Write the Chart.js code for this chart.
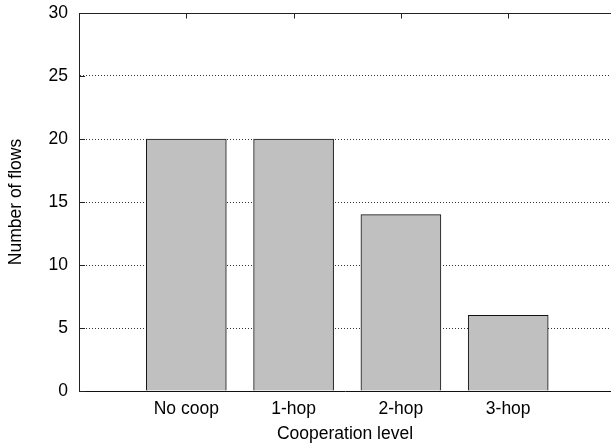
<!DOCTYPE html>
<html>
<head>
<meta charset="utf-8">
<script src="https://cdn.jsdelivr.net/npm/chart.js@4.4.1/dist/chart.umd.min.js"></script>
<style>
  html, body { margin: 0; padding: 0; background: #fff; overflow: hidden; }
  #wrap { width: 611px; height: 446px; }
</style>
</head>
<body>
<div id="wrap"><canvas id="chart" width="611" height="446"></canvas></div>
<script>
// ----- Data -----
const categories = ["No coop", "1-hop", "2-hop", "3-hop"];
const flows = [20, 20, 14, 6];
const yTicks = [0, 5, 10, 15, 20, 25, 30];

const FONT = "'Liberation Sans', Arial, Helvetica, sans-serif";
const FSIZE = 17.5;

// inward tick marks (gnuplot style) + top border
const frameTicks = {
  id: "frameTicks",
  afterDatasetsDraw(chart) {
    const { ctx, chartArea, scales } = chart;
    const x = scales.x, y = scales.y;
    const top = Math.round(y.getPixelForValue(30)) + 0.5;
    ctx.save();
    ctx.strokeStyle = "#222";
    ctx.lineWidth = 1;
    ctx.beginPath();
    // top border
    ctx.moveTo(chartArea.left, top);
    ctx.lineTo(chartArea.right, top);
    // left ticks
    yTicks.forEach(v => {
      const py = Math.round(y.getPixelForValue(v)) + 0.5;
      ctx.moveTo(chartArea.left, py);
      ctx.lineTo(chartArea.left + 6, py);
    });
    // top ticks at categories
    categories.forEach((c, i) => {
      const px = Math.round(x.getPixelForValue(i)) + 0.5;
      ctx.moveTo(px, top);
      ctx.lineTo(px, top + 5);
    });
    ctx.stroke();
    ctx.restore();
  }
};

const ctx = document.getElementById("chart").getContext("2d");
new Chart(ctx, {
  type: "bar",
  data: {
    datasets: [{
      label: "Number of flows",
      data: flows.map((v, i) => ({ x: i, y: v })),
      backgroundColor: "#c0c0c0",
      borderColor: "#111",
      borderWidth: 1,
      barThickness: 80
    }]
  },
  options: {
    responsive: false,
    animation: false,
    layout: { padding: { top: 13, right: 0, left: 0, bottom: 0 } },
    plugins: { legend: { display: false }, tooltip: { enabled: false } },
    scales: {
      x: {
        type: "linear",
        offset: false,
        min: -1,
        max: 3.958,
        afterBuildTicks: s => { s.ticks = categories.map((c, i) => ({ value: i })); },
        afterFit: s => { s.height = 55; s.paddingLeft = 0; s.paddingRight = 0; },
        grid: { display: false, drawTicks: false, offset: false },
        border: { display: true, color: "#111", width: 1 },
        ticks: {
          padding: 8,
          color: "#000",
          maxRotation: 0,
          autoSkip: false,
          font: { family: FONT, size: FSIZE },
          callback: v => categories[v] ?? ""
        },
        title: {
          display: true,
          text: "Cooperation level",
          color: "#000",
          font: { family: FONT, size: FSIZE },
          padding: { top: 0, bottom: 1 }
        }
      },
      y: {
        min: 0,
        max: 30,
        afterBuildTicks: s => { s.ticks = yTicks.map(v => ({ value: v })); },
        afterFit: s => { s.width = 79; s.paddingTop = 0; s.paddingBottom = 0; },
        grid: { color: "#333", lineWidth: 1, drawTicks: false },
        border: { display: true, color: "#222", width: 1, dash: [1, 2] },
        ticks: {
          padding: 11,
          color: "#000",
          font: { family: FONT, size: FSIZE }
        },
        title: {
          display: true,
          text: "Number of flows",
          color: "#000",
          font: { family: FONT, size: FSIZE },
          padding: { top: 6, bottom: 0 }
        }
      }
    }
  },
  plugins: [frameTicks]
});
</script>
</body>
</html>
